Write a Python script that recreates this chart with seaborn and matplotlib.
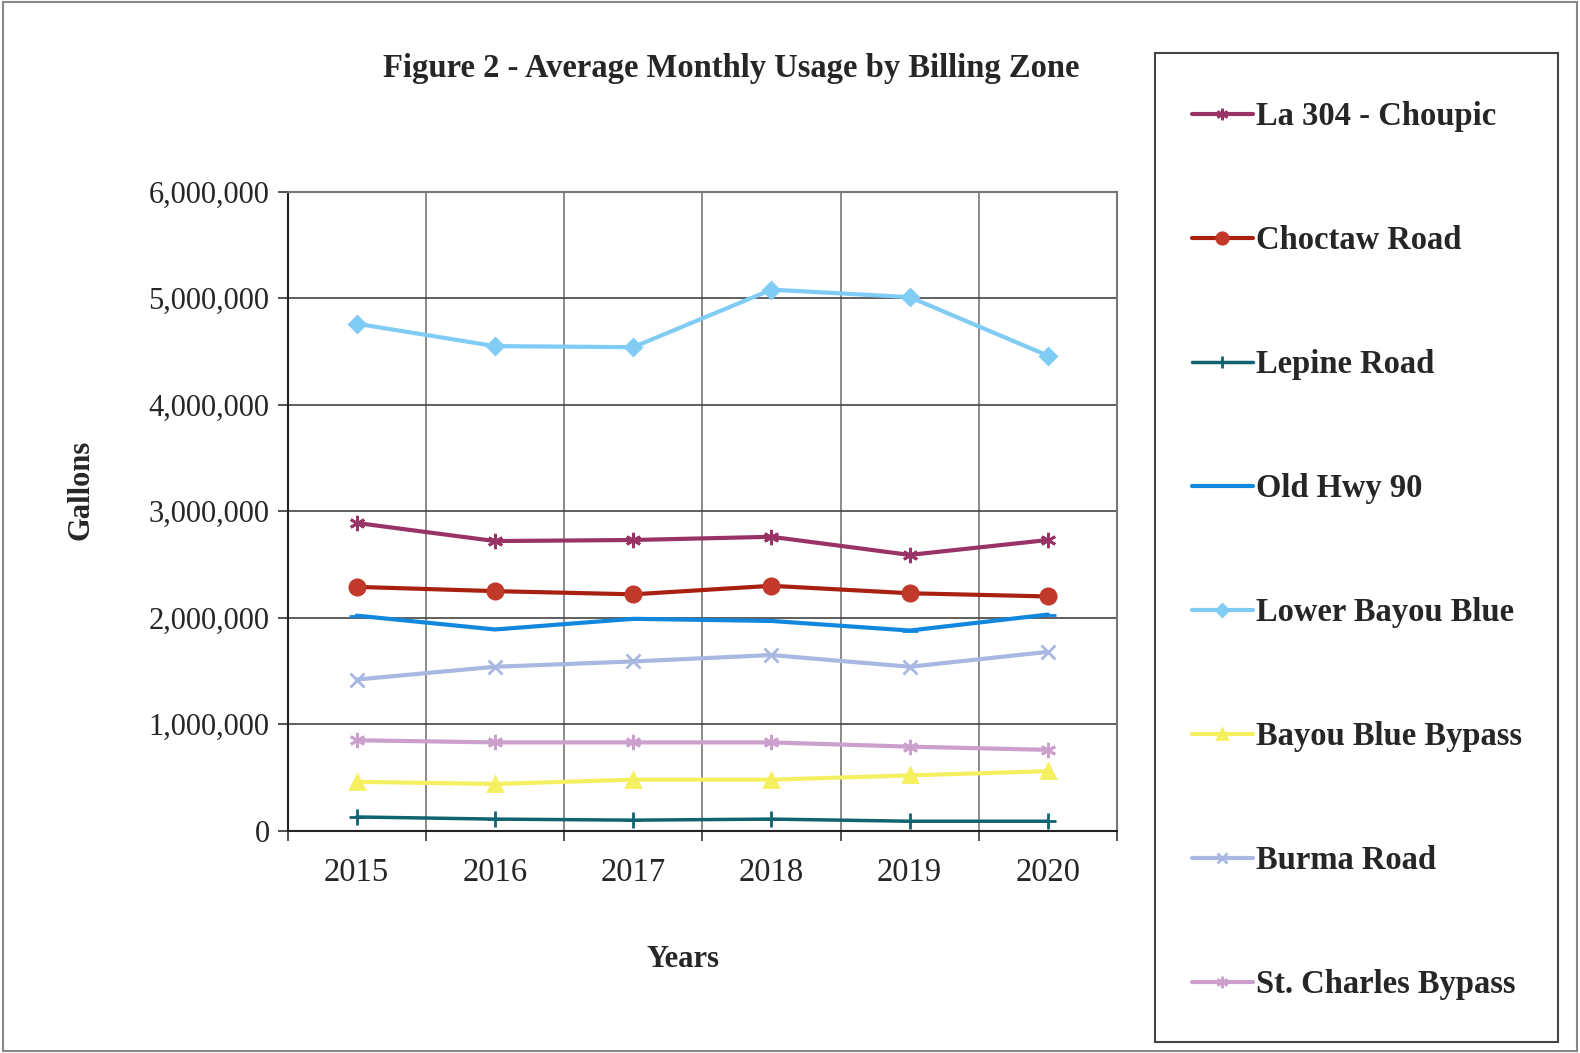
import numpy as np
import pandas as pd
import matplotlib
matplotlib.use('Agg')
import matplotlib.pyplot as plt
import seaborn as sns
from matplotlib.patches import Rectangle
from matplotlib.ticker import FuncFormatter

sns.set_style('white')
plt.rcParams['font.family'] = ['Liberation Serif', 'DejaVu Serif']

years = ['2015', '2016', '2017', '2018', '2019', '2020']
zones = ['La 304 - Choupic', 'Choctaw Road', 'Lepine Road', 'Old Hwy 90',
         'Lower Bayou Blue', 'Bayou Blue Bypass', 'Burma Road', 'St. Charles Bypass']

la304 = [2890000, 2720000, 2730000, 2760000, 2590000, 2730000]
choctaw = [2290000, 2250000, 2220000, 2300000, 2230000, 2200000]
lepine = [130000, 110000, 100000, 110000, 90000, 90000]
old_hwy = [2020000, 1890000, 1990000, 1970000, 1880000, 2030000]
lower_bb = [4760000, 4550000, 4540000, 5080000, 5010000, 4460000]
bb_bypass = [460000, 440000, 480000, 480000, 520000, 560000]
burma = [1420000, 1540000, 1590000, 1650000, 1540000, 1680000]
st_charles = [850000, 830000, 830000, 830000, 790000, 760000]

series = [la304, choctaw, lepine, old_hwy, lower_bb, bb_bypass, burma, st_charles]

# line colour, marker, marker colour, marker size
styles = {
    'La 304 - Choupic': ('#993366', (6, 2, 0), '#993366', 11),
    'Choctaw Road': ('#A82010', 'o', '#C0392B', 11),
    'Lepine Road': ('#0F6470', '+', '#0F6470', 12),
    'Old Hwy 90': ('#1188DD', '_', '#1188DD', 12),
    'Lower Bayou Blue': ('#80CCF5', 'D', '#80CCF5', 8),
    'Bayou Blue Bypass': ('#F5F060', '^', '#F5F060', 10),
    'Burma Road': ('#A8B8E0', 'x', '#A8B8E0', 10),
    'St. Charles Bypass': ('#CCA0CC', (6, 2, 0), '#CCA0CC', 11),
}

df = pd.DataFrame({
    'zone': np.repeat(zones, len(years)),
    'pos': np.tile(np.arange(len(years)), len(zones)),
    'gallons': np.concatenate(series),
})

fig = plt.figure(figsize=(15.8, 10.53), dpi=100)
ax = fig.add_axes([0.182, 0.211, 0.525, 0.607])

handles = []
for z in zones:
    lc, mk, mc, ms = styles[z]
    sub = df[df['zone'] == z]
    lw = 2.5 if z == 'Lepine Road' else 3
    sns.lineplot(data=sub, x='pos', y='gallons', ax=ax, color=lc, linewidth=lw,
                 marker=mk, markersize=ms, markerfacecolor=mc, markeredgecolor=mc,
                 markeredgewidth=2, label=z, legend=False)
    handles.append(ax.lines[-1])

ax.set_xlim(-0.5, 5.5)
ax.set_ylim(0, 6000000)
ax.set_xticks(range(len(years)))
ax.set_xticklabels(years)
ax.set_xticks(np.arange(-0.5, 6, 1), minor=True)
ax.set_yticks(np.arange(0, 6000001, 1000000))
ax.yaxis.set_major_formatter(FuncFormatter(lambda v, p: f'{int(v):,}'))
ax.tick_params(axis='x', which='major', length=0, labelsize=23.5, pad=19)
ax.tick_params(axis='x', which='minor', length=7, width=1.2, color='#333333', direction='out', bottom=True)
ax.tick_params(axis='y', length=7, width=1.2, color='#333333', direction='out', left=True, labelsize=22, pad=6)
ax.grid(True, axis='y', which='major', color='#444444', linewidth=1.2)
ax.grid(True, axis='x', which='minor', color='#777777', linewidth=1.2)
ax.grid(False, axis='x', which='major')
for s in ax.spines.values():
    s.set_color('#777777')
    s.set_linewidth(1.5)
ax.spines['left'].set_color('#222222')
ax.spines['bottom'].set_color('#222222')

ax.set_xlabel('Years', fontsize=22, fontweight='bold')
ax.set_ylabel('Gallons', fontsize=22, fontweight='bold')
ax.xaxis.set_label_coords(0.477, -0.178)
ax.yaxis.set_label_coords(-0.231, 0.533)

fig.text(0.463, 0.935, 'Figure 2 - Average Monthly Usage by Billing Zone',
         ha='center', va='center', fontsize=23.5, fontweight='bold')

# legend box
fig.patches.append(Rectangle((0.731, 0.010), 0.255, 0.940, transform=fig.transFigure,
                             fill=False, edgecolor='#444444', linewidth=1.5))
fig.legend(handles=handles, labels=zones, loc='upper left', bbox_to_anchor=(0.736, 0.932),
           frameon=False, prop={'weight': 'bold', 'size': 23.5},
           handlelength=1.85, handletextpad=0.1, labelspacing=2.85, markerscale=0.75)

# outer border
fig.patches.append(Rectangle((0.002, 0.002), 0.996, 0.996, transform=fig.transFigure,
                             fill=False, edgecolor='#888888', linewidth=1.5))

fig.savefig('out.png', dpi=100)
